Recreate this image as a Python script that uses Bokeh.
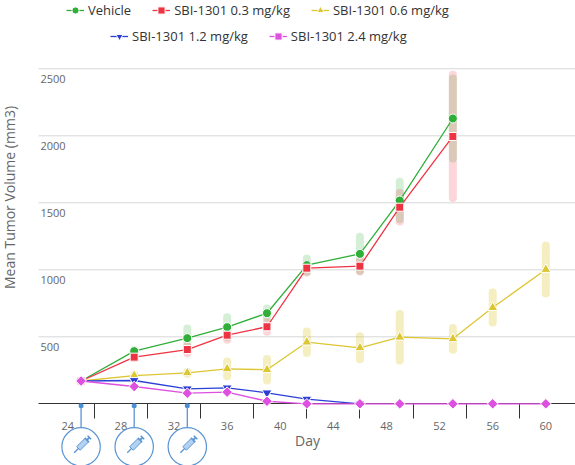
import math
from bokeh.plotting import figure
from bokeh.models import Range1d, FixedTicker, Legend, LegendItem
from bokeh.core.properties import value
from bokeh.embed import file_html
from bokeh.resources import INLINE

# ---------------- data ----------------
days = [25, 29, 33, 36, 39, 42, 46, 49, 53, 56, 60]
vehicle = [170, 393, 490, 572, 676, 1035, 1119, 1517, 2129]
vehicle_err = [0, 10, 72, 74, 36, 50, 127, 140, 298]
dose_03 = [170, 348, 405, 512, 575, 1012, 1027, 1467, 1995]
dose_03_err = [0, 8, 27, 34, 38, 32, 40, 107, 460]
dose_06 = [170, 211, 231, 261, 254, 460, 418, 497, 485, 718, 1002]
dose_06_err = [0, 5, 8, 55, 80, 80, 86, 174, 81, 112, 179]
dose_12 = [170, 174, 112, 119, 82, 35, 0]
dose_24 = [170, 129, 79, 87, 19, 0, 0, 0, 0, 0, 0]
dosing_days = [25, 29, 33]

series_names = ["Vehicle", "SBI-1301 0.3 mg/kg", "SBI-1301 0.6 mg/kg",
                "SBI-1301 1.2 mg/kg", "SBI-1301 2.4 mg/kg"]
x_ticks = [24, 28, 32, 36, 40, 44, 48, 52, 56, 60]
x_minor_ticks = [26, 30, 34, 38, 42, 46, 50, 54, 58]
y_ticks = [500, 1000, 1500, 2000, 2500]
y_tick_labels = ["500", "1000", "1500", "2000", "2500"]

# ---------------- layout ----------------
W, H = 575, 465
PXD = 13.278   # pixels per day
PXV = 0.134    # pixels per mm3
x_start = 24 - 67.3 / PXD
x_end = x_start + W / PXD
y_top = 403.3 / PXV
y_bot = y_top - H / PXV


def dx(page_x):
    return x_start + page_x / PXD


def vy(page_y):
    return y_top - page_y / PXV


axis_start = dx(38)

GREEN = "#2fae38"
RED = "#ee3342"
YELLOW = "#dcc633"
BLUE = "#2b3fd4"
MAGENTA = "#dd50e0"
ICON = "#5a94d3"
FONT = "Open Sans"

p = figure(width=W, height=H, x_range=Range1d(x_start, x_end),
           y_range=Range1d(y_bot, y_top), output_backend="svg",
           toolbar_location=None, min_border=0, outline_line_color=None)
p.min_border_left = 0
p.min_border_right = 0
p.min_border_top = 0
p.min_border_bottom = 0
p.background_fill_color = "white"
p.xgrid.visible = False
p.ygrid.visible = False
p.yaxis.visible = False

xa = p.xaxis[0]
xa.fixed_location = 0
xa.level = "underlay"
xa.bounds = (axis_start, x_end)
xa.ticker = FixedTicker(ticks=x_ticks, minor_ticks=x_minor_ticks)
xa.major_tick_out = 0
xa.major_tick_in = 0
xa.minor_tick_out = 15
xa.minor_tick_in = 0
xa.minor_tick_line_color = "#333333"
xa.axis_line_color = "#333333"
xa.major_label_text_font = FONT
xa.major_label_text_font_size = "11px"
xa.major_label_text_color = "#666666"
xa.major_label_standoff = 3

# grid lines
p.segment(x0=[axis_start] * len(y_ticks), x1=[x_end] * len(y_ticks),
          y0=y_ticks, y1=y_ticks, line_color="#d8d8d8", line_width=1)

# y tick labels (inside the plot, under each grid line)
p.text(x=[dx(40)] * len(y_ticks), y=y_ticks, text=y_tick_labels,
       text_font=value(FONT), text_font_size="11px", text_color="#666666",
       text_align="left", text_baseline="middle", y_offset=10)

# axis titles
p.text(x=[dx(8.5)], y=[vy(197)], text=["Mean Tumor Volume (mm3)"],
       angle=math.pi / 2, text_font=value(FONT), text_font_size="14px",
       text_color="#666666", text_align="center", text_baseline="middle")
p.text(x=[dx(307)], y=[vy(439.5)], text=["Day"], text_font=value(FONT),
       text_font_size="14px", text_color="#666666", text_align="center",
       text_baseline="middle")

# error bars
def errbars(vals, errs, color, alpha):
    n = len(vals)
    x = days[:n]
    p.segment(x0=x, x1=x, y0=[v - e for v, e in zip(vals, errs)],
              y1=[v + e for v, e in zip(vals, errs)], line_color=color,
              line_alpha=alpha, line_width=8, line_cap="round")

errbars(vehicle, vehicle_err, GREEN, 0.2)
errbars(dose_03, dose_03_err, RED, 0.2)
errbars(dose_06, dose_06_err, YELLOW, 0.3)

# series
specs = [
    (vehicle, GREEN, "circle", 9, 0),
    (dose_03, RED, "square", 8, 0),
    (dose_06, YELLOW, "triangle", 10, 0),
    (dose_12, BLUE, "inverted_triangle", 10, 0),
    (dose_24, MAGENTA, "square", 7.5, math.pi / 4),
]
legend_items = []
for (vals, color, marker, size, ang), name in zip(specs, series_names):
    x = days[:len(vals)]
    lr = p.line(x, vals, line_color=color, line_width=1.3)
    sr = p.scatter(x, vals, marker=marker, size=size, angle=ang,
                   fill_color=color, line_color="white", line_width=1)
    legend_items.append(LegendItem(label=name, renderers=[lr, sr]))

common = dict(orientation="horizontal", glyph_width=18, glyph_height=18,
              label_height=18, label_standoff=4, spacing=21, padding=0,
              margin=0, border_line_color=None, background_fill_alpha=0,
              label_text_font=FONT, label_text_font_size="13px",
              label_text_color="#333333")
leg1 = Legend(items=legend_items[:3], location=(66, 446), **common)
leg2 = Legend(items=legend_items[3:], location=(110, 420), **common)
p.add_layout(leg1)
p.add_layout(leg2)

# dosing markers below the axis
n = len(dosing_days)
dot_y = vy(405.3)
circ_cy_page = 446.3
circ_r = 19.2
circ_y = vy(circ_cy_page)
circ_top = vy(circ_cy_page - circ_r)
p.segment(x0=dosing_days, x1=dosing_days, y0=[dot_y] * n, y1=[circ_top] * n,
          line_color=ICON, line_width=1.3)
p.scatter(dosing_days, [dot_y] * n, marker="circle", size=5,
          fill_color="#4a8fd6", line_color=None)
p.scatter(dosing_days, [circ_y] * n, marker="circle", size=2 * circ_r,
          fill_color="white", line_color=ICON, line_width=1.2)

# syringe icon (screen-pixel offsets from each circle centre)
ux, uy = 0.7071, -0.7071   # screen direction up-right
vx, vy_ = 0.7071, 0.7071   # perpendicular


def pt(d, ox, oy):
    return d + ox / PXD, circ_y - oy / PXV


body_c = (0.5 + ux * 1.5, -1.5 + uy * 1.5)
b_lo = (body_c[0] - ux * 6, body_c[1] - uy * 6)
b_hi = (body_c[0] + ux * 6, body_c[1] + uy * 6)
n_end = (b_lo[0] - ux * 6, b_lo[1] - uy * 6)
p_end = (b_hi[0] + ux * 3.5, b_hi[1] + uy * 3.5)

bx = [pt(d, *body_c)[0] for d in dosing_days]
by = [pt(d, *body_c)[1] for d in dosing_days]
p.rect(bx, by, width=12, height=5, width_units="screen", height_units="screen",
       angle=math.pi / 4, fill_color="#b3d2f2", line_color=ICON, line_width=1)


def seg(a, b, w):
    p.segment(x0=[pt(d, *a)[0] for d in dosing_days],
              y0=[pt(d, *a)[1] for d in dosing_days],
              x1=[pt(d, *b)[0] for d in dosing_days],
              y1=[pt(d, *b)[1] for d in dosing_days],
              line_color=ICON, line_width=w)


seg(b_lo, n_end, 1.3)
seg(b_hi, p_end, 1.8)
seg((b_hi[0] - vx * 3, b_hi[1] - vy_ * 3), (b_hi[0] + vx * 3, b_hi[1] + vy_ * 3), 1.5)
seg((p_end[0] - vx * 2.5, p_end[1] - vy_ * 2.5), (p_end[0] + vx * 2.5, p_end[1] + vy_ * 2.5), 1.5)

open("out.html", "w").write(file_html(p, INLINE))
